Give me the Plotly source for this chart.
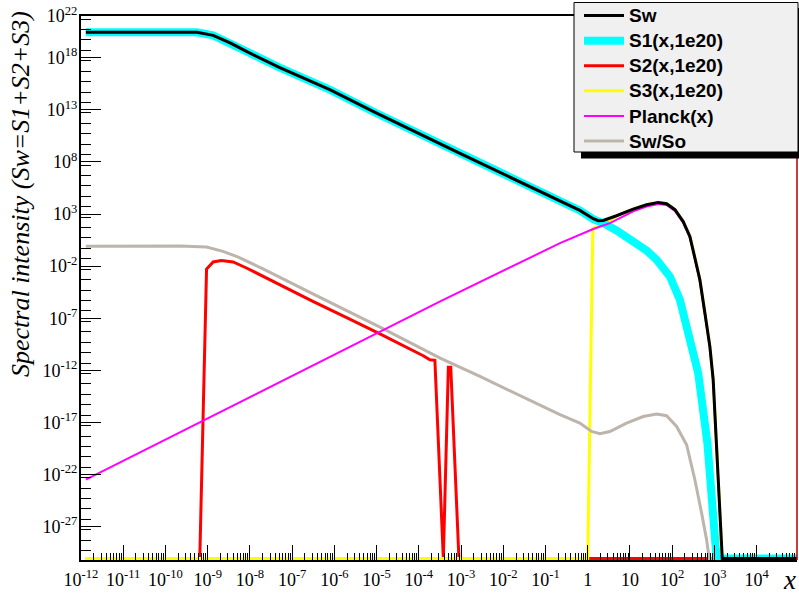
import plotly.graph_objects as go

# ---------------- data ----------------
# Sw = S1 + S2 + S3 (black)
SW_X = [1.3e-12, 5.6e-10, 1.35e-9, 3.4e-9, 8.3e-9, 5.1e-8, 7.8e-7, 1.0e-5, 1.0e-3, 0.22, 0.65,
        1.35, 1.77, 2.32, 4.8, 11.9, 24.7, 46.6, 73.6, 116, 182, 262, 314, 452, 594, 780,
        933, 1125, 1346, 1530, 90000]
SW_Y = [2.7e20, 2.7e20, 1.4e20, 2.6e19, 4.0e18, 1.1e17, 8.5e14, 4.7e12, 5.9e8, 1.6e4, 2.2e3,
        3.5e2, 2.3e2, 2.4e2, 6.8e2, 3.0e3, 7.8e3, 1.3e4, 9.8e3, 2.6e3, 1.9e2, 7.1, 0.37, 4.9e-4,
        3.2e-7, 1.9e-10, 1.3e-13, 4.9e-20, 2.0e-26, 0, 0]

# S1(x,1e20) (cyan)
S1_X = [1.3e-12, 5.6e-10, 1.35e-9, 3.4e-9, 8.3e-9, 5.1e-8, 7.8e-7, 1.0e-5, 1.0e-3, 0.22, 0.65,
        1.35, 2.32, 4.8, 8.3, 14.4, 25, 42.7, 65, 88, 152, 239, 412, 681, 933, 1125, 90000]
S1_Y = [2.7e20, 2.7e20, 1.4e20, 2.6e19, 4.0e18, 1.1e17, 8.5e14, 4.7e12, 5.9e8, 1.6e4, 2.2e3,
        3.2e2, 1.35e2, 26, 6.5, 1.6, 0.3, 4.1e-2, 3.5e-3, 1.0e-3, 5.9e-6, 7.8e-9, 5.5e-13,
        1.0e-19, 2.0e-26, 0, 0]

# S2(x,1e20) (red)
S2_X = [1.3e-12, 6.5e-10, 9.4e-10, 1.35e-9, 2.1e-9, 4.0e-9, 8.3e-9, 5.1e-8, 3.1e-7, 1.9e-6,
        1.2e-5, 1.27e-4, 1.83e-4, 2.4e-4, 3.8e-4, 5.0e-4, 5.7e-4, 8.9e-4, 90000]
S2_Y = [0, 0, 5.2e-3, 2.5e-2, 3.5e-2, 2.5e-2, 6.6e-3, 1.6e-4, 4.1e-6, 1.2e-7,
        3.2e-9, 2.5e-11, 1.05e-11, 9.3e-12, 0, 2.0e-12, 2.0e-12, 0, 0]

# S3(x,1e20) (yellow)
S3_X = [1.3e-12, 1.0, 1.32, 2.32, 4.8, 11.9, 24.7, 46.6, 73.6, 116, 182, 262, 314, 452, 594,
        780, 933, 1125, 1346, 1530]
S3_Y = [0, 0, 40, 1.0e2, 6.5e2, 3.0e3, 7.8e3, 1.3e4, 9.8e3, 2.6e3, 1.9e2, 7.1, 0.37, 4.9e-4,
        3.2e-7, 1.9e-10, 1.3e-13, 4.9e-20, 2.0e-26, 0]

# Planck(x) (magenta)
PL_X = [1.3e-12, 2.0e-7, 3.2e-4, 0.22, 1.35, 3.34, 4.8, 11.9, 24.7, 46.6, 73.6, 116, 182, 262,
        314, 452, 594, 780, 933, 1125, 1346]
PL_Y = [3.2e-23, 1.15e-12, 4.1e-6, 1.6, 36, 1.35e2, 2.8e2, 1.8e3, 5.2e3, 9.3e3, 7.4e3, 2.0e3,
        1.5e2, 5.5, 0.28, 3.7e-4, 2.4e-7, 1.4e-10, 1.0e-13, 3.7e-20, 1.5e-26]

# Sw/So (grey)
SO_X = [1.3e-12, 2.2e-10, 9.4e-10, 2.3e-9, 5.3e-9, 2.1e-8, 3.1e-7, 1.2e-5, 3.2e-4, 2.8e-3,
        0.22, 0.65, 1.23, 1.94, 3.34, 8.3, 20.6, 42.7, 73.6, 127, 219, 344, 497, 652, 752, 1530]
SO_Y = [0.81, 0.85, 0.68, 0.26, 7.4e-2, 5.2e-3, 2.2e-5, 1.4e-8, 1.5e-11, 2.6e-13,
        5.5e-17, 8.7e-18, 1.35e-18, 8.1e-19, 1.35e-18, 8.7e-18, 3.7e-17, 6.3e-17, 4.4e-17,
        4.1e-18, 7.2e-20, 3.2e-23, 2.0e-26, 5.5e-29, 0, 0]

X_TICK_EXP = list(range(-12, 5))
X_TICK_TEXT = ["10<sup>-12</sup>", "10<sup>-11</sup>", "10<sup>-10</sup>", "10<sup>-9</sup>",
               "10<sup>-8</sup>", "10<sup>-7</sup>", "10<sup>-6</sup>", "10<sup>-5</sup>",
               "10<sup>-4</sup>", "10<sup>-3</sup>", "10<sup>-2</sup>", "10<sup>-1</sup>",
               "1", "10", "10<sup>2</sup>", "10<sup>3</sup>", "10<sup>4</sup>"]
Y_TICK_EXP = list(range(-30, 23))
Y_LABELED_EXP = [-27, -22, -17, -12, -7, -2, 3, 8, 13, 18, 22]
Y_TICK_TEXT = ["10<sup>%d</sup>" % e for e in Y_LABELED_EXP]

X_LOG_RANGE = [-12, 4.955]
Y_LOG_RANGE = [-30.2, 22.0]
Y_FLOOR = 10 ** -30.05   # ROOT draws values at/below the minimum on the frame bottom

# ---------------- helpers ----------------
W, H = 799, 595
ML, MR, MT, MB = 81, 2, 16, 35
PW, PH = W - ML - MR, H - MT - MB


def px(xp):
    return (xp - ML) / PW


def py(yp):
    return (H - MB - yp) / PH


def on_log(vals):
    return [v if v > 0 else Y_FLOOR for v in vals]


def legend_name(s):
    return "<span style='font-size:19px'>%s</span>" % s


fig = go.Figure()

# drawing order (bottom to top), legend order via legendrank
traces = [
    ("S2(x,1e20)", S2_X, S2_Y, "#ff0000", 3, 3),
    ("S3(x,1e20)", S3_X, S3_Y, "#ffff00", 3, 4),
    ("Sw/So", SO_X, SO_Y, "#bdb5ab", 3, 6),
    ("S1(x,1e20)", S1_X, S1_Y, "#00ffff", 8, 2),
    ("Planck(x)", PL_X, PL_Y, "#ff00ff", 2, 5),
    ("Sw", SW_X, SW_Y, "#000000", 3, 1),
]
for name, xs, ys, col, lw, rank in traces:
    fig.add_trace(go.Scatter(x=xs, y=on_log(ys), mode="lines", name=legend_name(name),
                             line=dict(color=col, width=lw), legendrank=rank))

x_minor = [m * 10.0 ** e for e in range(-12, 5) for m in range(2, 10)]
y_minor = [5 * 10.0 ** e for e in range(-31, 22)]
y_unlabeled = [10.0 ** e for e in Y_TICK_EXP if e not in Y_LABELED_EXP]

fig.update_layout(
    width=W, height=H,
    margin=dict(l=ML, r=MR, t=MT, b=MB, autoexpand=False),
    paper_bgcolor="white", plot_bgcolor="white",
    showlegend=True,
    legend=dict(x=px(579), y=py(-2), xanchor="left", yanchor="top",
                bgcolor="rgba(0,0,0,0)", borderwidth=0, itemwidth=40,
                font=dict(family="Liberation Sans", size=17, color="black", weight="bold"),
                traceorder="normal"),
    xaxis=dict(type="log", range=X_LOG_RANGE, showgrid=False, zeroline=False,
               showline=True, linecolor="black", linewidth=2, mirror=True,
               tickmode="array", tickvals=[10.0 ** e for e in X_TICK_EXP], ticktext=X_TICK_TEXT,
               ticks="inside", ticklen=15, tickwidth=1, tickcolor="black",
               ticklabelstandoff=2,
               tickfont=dict(family="Liberation Serif", size=18, color="black"),
               minor=dict(tickmode="array", tickvals=x_minor, ticks="inside", ticklen=7,
                          tickwidth=1, tickcolor="black", showgrid=False)),
    yaxis=dict(type="log", range=Y_LOG_RANGE, showgrid=False, zeroline=False,
               showline=True, linecolor="black", linewidth=2, mirror=False,
               tickmode="array", tickvals=[10.0 ** e for e in Y_LABELED_EXP],
               ticktext=Y_TICK_TEXT,
               ticks="inside", ticklen=20, tickwidth=1, tickcolor="black",
               ticklabelstandoff=-2,
               tickfont=dict(family="Liberation Serif", size=18, color="black"),
               minor=dict(tickmode="array", tickvals=y_minor, ticks="inside", ticklen=10,
                          tickwidth=1, tickcolor="black", showgrid=False)),
    # second (overlaid) log axis only carries the long ticks of the unlabeled decades
    yaxis2=dict(type="log", range=Y_LOG_RANGE, overlaying="y", anchor="x", side="left",
                showgrid=False, zeroline=False, showline=False, showticklabels=False,
                tickmode="array", tickvals=y_unlabeled,
                ticks="inside", ticklen=20, tickwidth=1, tickcolor="black"),
    shapes=[
        # right frame border
        dict(type="line", xref="paper", yref="paper", x0=1, x1=1, y0=0, y1=1,
             line=dict(color="#b00000", width=1.5), layer="above"),
        # legend shadow and box
        dict(type="rect", xref="paper", yref="paper", x0=px(581), x1=px(806), y0=py(158.5), y1=py(8),
             fillcolor="black", line=dict(width=0), layer="above"),
        dict(type="rect", xref="paper", yref="paper", x0=px(574), x1=px(798), y0=py(152), y1=py(2.5),
             fillcolor="#f0f0f0", line=dict(color="black", width=1), layer="above"),
    ],
    annotations=[
        dict(text="Spectral intensity (Sw=S1+S2+S3)", xref="paper", yref="paper",
             x=px(21), y=py(194), xanchor="center", yanchor="middle", textangle=-90,
             showarrow=False,
             font=dict(family="Liberation Serif", size=26, color="black", style="italic")),
        dict(text="x", xref="paper", yref="paper", x=px(789), y=py(580),
             xanchor="center", yanchor="middle", showarrow=False,
             font=dict(family="Liberation Serif", size=27, color="black", style="italic")),
    ],
)

fig.write_html("out.html", config={"displayModeBar": False},
               post_script="document.body.style.margin='0px';")
